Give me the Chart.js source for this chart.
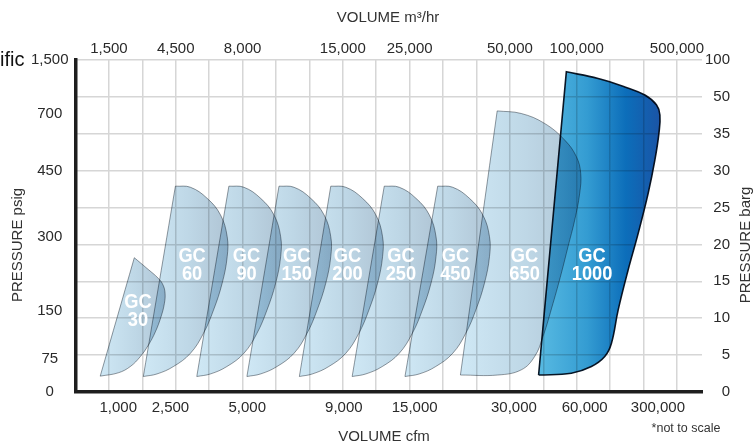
<!DOCTYPE html>
<html>
<head>
<meta charset="utf-8">
<script src="https://cdn.jsdelivr.net/npm/chart.js@4.4.1/dist/chart.umd.min.js"></script>
<style>
html,body{margin:0;padding:0;background:#fff;overflow:hidden}
#wrap{width:754px;height:442px;position:relative}
</style>
</head>
<body>
<div id="wrap"><canvas id="c"></canvas></div>
<script>
// ---------- tick labels (positions in grid units) ----------
const topTickLabels = ['1,500','4,500','8,000','15,000','25,000','50,000','100,000','500,000'];
const topTickAt     = [1, 3, 5, 8, 10, 13, 15, 18];
const bottomTickLabels = ['1,000','2,500','5,000','9,000','15,000','30,000','60,000','300,000'];
const bottomTickAt     = [1.28, 2.84, 5.14, 8.03, 10.15, 13.12, 15.24, 17.43];
const leftTickLabels = ['0','75','150','300','450','700','1,500'];
const leftTickAt     = [0, 0.9, 2.2, 4.2, 6, 7.55, 9];
const rightTickLabels = ['0','5','10','15','20','25','30','35','50','100'];

// ---------- models ----------
const modelNumbers = ['30','60','90','150','200','250','450','650','1000'];
const labelAt = [[1.87,2.20],[3.49,3.44],[5.12,3.44],[6.62,3.44],[8.14,3.44],[9.74,3.44],[11.37,3.44],[13.44,3.44],[15.46,3.44]];

// outlines [x, y] in grid units: bottom-left, top-left, then along the curved edge back to bottom-left
const gc30 = [[0.74,0.43],[1.76,3.64],[2.14,3.35],[2.48,3.08],[2.62,2.90],[2.68,2.68],[2.66,2.40],[2.56,2.04],[2.39,1.63],[2.18,1.27],[1.94,0.96],[1.64,0.69],[1.28,0.52],[0.74,0.43]];
const gc60 = [[2.03,0.42],[2.99,5.58],[3.44,5.55],[3.94,5.25],[4.34,4.80],[4.54,4.21],[4.54,3.67],[4.39,2.95],[4.13,2.22],[3.83,1.59],[3.44,1.05],[2.93,0.69],[2.44,0.49],[2.03,0.42]];
const gc90 = [[3.63,0.42],[4.59,5.58],[5.04,5.55],[5.54,5.25],[5.94,4.80],[6.14,4.21],[6.14,3.67],[5.99,2.95],[5.73,2.22],[5.43,1.59],[5.04,1.05],[4.53,0.69],[4.04,0.49],[3.63,0.42]];
const gc150 = [[5.13,0.42],[6.09,5.58],[6.54,5.55],[7.04,5.25],[7.44,4.80],[7.64,4.21],[7.64,3.67],[7.49,2.95],[7.23,2.22],[6.93,1.59],[6.54,1.05],[6.03,0.69],[5.54,0.49],[5.13,0.42]];
const gc200 = [[6.70,0.42],[7.64,5.58],[8.09,5.55],[8.59,5.25],[8.99,4.80],[9.19,4.21],[9.19,3.67],[9.04,2.95],[8.78,2.22],[8.48,1.59],[8.09,1.05],[7.58,0.69],[7.09,0.49],[6.70,0.42]];
const gc250 = [[8.28,0.42],[9.24,5.58],[9.69,5.55],[10.19,5.25],[10.59,4.80],[10.79,4.21],[10.79,3.67],[10.64,2.95],[10.38,2.22],[10.08,1.59],[9.69,1.05],[9.18,0.69],[8.69,0.49],[8.28,0.42]];
const gc450 = [[9.86,0.42],[10.84,5.58],[11.29,5.55],[11.79,5.25],[12.19,4.80],[12.39,4.21],[12.39,3.67],[12.24,2.95],[11.98,2.22],[11.68,1.59],[11.29,1.05],[10.78,0.69],[10.29,0.49],[9.86,0.42]];
const gc650 = [[11.52,0.46],[12.62,7.62],[13.34,7.55],[14.04,7.28],[14.64,6.83],[14.99,6.38],[15.12,5.93],[15.09,5.39],[14.94,4.66],[14.74,3.94],[14.54,3.22],[14.29,2.40],[13.99,1.50],[13.74,0.96],[13.34,0.60],[12.64,0.46],[11.52,0.46]];
const gc1000 = [[13.86,0.46],[14.69,8.68],[15.64,8.50],[16.44,8.27],[17.04,8.05],[17.39,7.78],[17.49,7.51],[17.46,7.01],[17.34,6.29],[17.14,5.39],[16.84,4.30],[16.54,3.31],[16.24,2.22],[16.04,1.32],[15.84,0.96],[15.44,0.69],[14.84,0.51],[13.86,0.46]];

const outlines = [gc30, gc60, gc90, gc150, gc200, gc250, gc450, gc650, gc1000];

// ---------- helpers ----------
const FONT = '"Liberation Sans", Arial, Helvetica, sans-serif';
const gridCols = Array.from({length: 19}, (_, i) => i);
const gridRows = Array.from({length: 10}, (_, i) => i);

function toPoints(outline) {
  const pts = outline.map(([x, y]) => ({x, y}));
  pts.splice(2, 0, {x: pts[1].x, y: pts[1].y}); // keep the top-left corner sharp
  return pts;
}
const lightStops = [[0,'rgb(207,232,245)'],[0.55,'rgb(190,215,230)'],[1,'rgb(176,197,213)']];
const darkStops  = [[0,'rgb(88,186,226)'],[0.4,'rgb(52,156,210)'],[0.72,'rgb(12,110,186)'],[1,'rgb(26,84,166)']];
function gradientFor(c, outline, stops) {
  const chart = c.chart;
  if (!chart.chartArea) return stops[0][1];
  const xs = chart.scales.x;
  const vals = outline.map(p => p[0]);
  const g = chart.ctx.createLinearGradient(xs.getPixelForValue(Math.min(...vals)), 0, xs.getPixelForValue(Math.max(...vals)), 0);
  stops.forEach(([o, col]) => g.addColorStop(o, col));
  return g;
}

const datasets = outlines.map((o, i) => {
  const dark = i === outlines.length - 1;
  return {
    label: 'GC ' + modelNumbers[i],
    data: toPoints(o),
    xAxisID: 'x', yAxisID: 'y',
    fill: 'shape',
    tension: 0.4,
    pointRadius: 0, pointHoverRadius: 0,
    borderWidth: dark ? 1.6 : 1,
    borderColor: dark ? '#0e1a28' : 'rgb(150,155,160)',
    backgroundColor: (c) => gradientFor(c, o, dark ? darkStops : lightStops)
  };
});

const decor = {
  id: 'decor',
  beforeDraw(chart) {
    const ctx = chart.ctx;
    ctx.save(); ctx.fillStyle = '#fff'; ctx.fillRect(0, 0, chart.width, chart.height); ctx.restore();
  },
  beforeDatasetsDraw(chart) { chart.ctx.globalCompositeOperation = 'multiply'; },
  afterDatasetsDraw(chart) {
    const ctx = chart.ctx;
    ctx.globalCompositeOperation = 'source-over';
    const xs = chart.scales.x, ys = chart.scales.y;
    labelAt.forEach(([lx, ly], i) => {
      ctx.save();
      ctx.translate(xs.getPixelForValue(lx), ys.getPixelForValue(ly));
      ctx.scale(0.87, 1);
      ctx.fillStyle = '#fff';
      ctx.font = 'bold 21px ' + FONT;
      ctx.textAlign = 'center'; ctx.textBaseline = 'middle';
      ctx.fillText('GC', 0, -8.5);
      ctx.fillText(modelNumbers[i], 0, 9);
      ctx.restore();
    });
  },
  afterDraw(chart) {
    const ctx = chart.ctx;
    ctx.save();
    ctx.fillStyle = '#333';
    ctx.font = '15px ' + FONT;
    ctx.textAlign = 'center'; ctx.textBaseline = 'middle';
    ctx.fillText('VOLUME m³/hr', 388, 18);
    ctx.fillText('VOLUME cfm', 384, 437);
    ctx.save(); ctx.translate(18, 245); ctx.rotate(-Math.PI / 2); ctx.fillText('PRESSURE psig', 0, 0); ctx.restore();
    ctx.save(); ctx.translate(746, 245); ctx.rotate(-Math.PI / 2); ctx.fillText('PRESSURE barg', 0, 0); ctx.restore();
    ctx.font = '12.5px ' + FONT;
    ctx.fillText('*not to scale', 686, 429);
    ctx.fillStyle = '#111';
    ctx.font = '20px ' + FONT;
    ctx.textAlign = 'left'; ctx.textBaseline = 'alphabetic';
    ctx.fillText('ific', 0, 66);
    ctx.restore();
  }
};

const tickFont = {family: FONT, size: 15};
const gridColor = '#d6d6d6';

new Chart(document.getElementById('c'), {
  type: 'line',
  data: {datasets},
  options: {
    responsive: true,
    maintainAspectRatio: false,
    animation: false,
    events: [],
    layout: {padding: {left: 31.5, right: 24, top: 30, bottom: 0}},
    plugins: {legend: {display: false}, tooltip: {enabled: false}},
    scales: {
      x: {
        type: 'linear', position: 'bottom', min: 0, max: 18.75,
        afterBuildTicks: s => { s.ticks = bottomTickAt.map(v => ({value: v})); },
        afterFit: s => { s.height = 50; },
        grid: {display: false, drawTicks: false},
        border: {display: true, color: '#1e1e1e', width: 3.5},
        ticks: {autoSkip: false, maxRotation: 0, padding: 7, color: '#2a2a2a', font: tickFont,
                callback: (v, i) => bottomTickLabels[i]}
      },
      x2: {
        type: 'linear', position: 'top', min: 0, max: 18.75,
        afterBuildTicks: s => { s.ticks = gridCols.map(v => ({value: v})); },
        afterFit: s => { s.height = 30; },
        grid: {display: true, color: gridColor, lineWidth: 1.5, drawTicks: false},
        border: {display: false},
        ticks: {autoSkip: false, maxRotation: 0, padding: 2, color: '#2a2a2a', font: tickFont,
                callback: (v) => { const k = topTickAt.indexOf(v); return k < 0 ? '' : topTickLabels[k]; }}
      },
      y: {
        type: 'linear', position: 'left', min: 0, max: 9,
        afterBuildTicks: s => { s.ticks = leftTickAt.map(v => ({value: v})); },
        afterFit: s => { s.width = 44; },
        grid: {display: false, drawTicks: false},
        border: {display: true, color: '#1e1e1e', width: 3.5},
        ticks: {autoSkip: false, padding: 7, crossAlign: 'center', color: '#2a2a2a', font: tickFont,
                callback: (v, i) => leftTickLabels[i]}
      },
      y2: {
        type: 'linear', position: 'right', min: 0, max: 9,
        afterBuildTicks: s => { s.ticks = gridRows.map(v => ({value: v})); },
        afterFit: s => { s.width = 28; },
        grid: {display: true, color: gridColor, lineWidth: 1.5, drawTicks: false},
        border: {display: false},
        ticks: {autoSkip: false, padding: 3, crossAlign: 'far', color: '#2a2a2a', font: tickFont,
                callback: (v, i) => rightTickLabels[i]}
      }
    }
  },
  plugins: [decor]
});
</script>
</body>
</html>
